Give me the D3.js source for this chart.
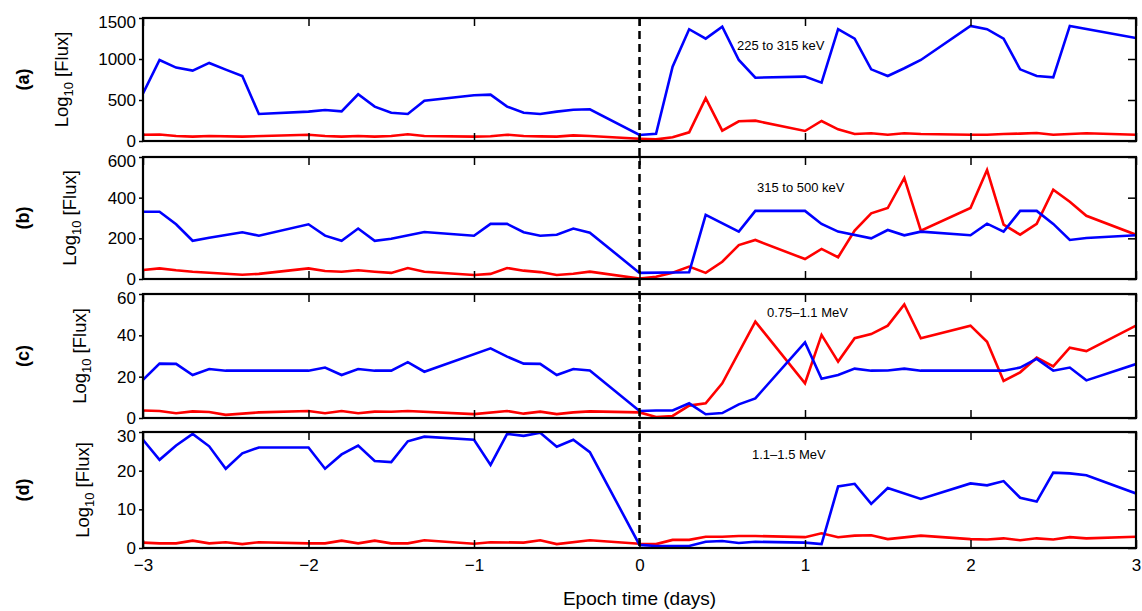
<!DOCTYPE html>
<html>
<head>
<meta charset="utf-8">
<script src="https://cdn.jsdelivr.net/npm/d3@7"></script>
<style>
  body { margin: 0; background: #fff; }
  svg { display: block; font-family: 'Liberation Sans', Arial, Helvetica, sans-serif; }
  .axis text { font-size: 17px; fill: #000; }
  .axis line { stroke: #000; stroke-width: 1.5; }
  .axis path { display: none; }
</style>
</head>
<body>
<div id="chart"></div>
<script>
// values: [epoch day, flux]
const blueA = [[-3,580],[-2.9,988],[-2.8,895],[-2.7,858],[-2.6,952],[-2.5,870],[-2.4,793],[-2.3,330],[-2.0,358],[-1.9,378],[-1.8,362],[-1.7,570],[-1.6,419],[-1.5,345],[-1.4,329],[-1.3,492],[-1.0,557],[-0.9,565],[-0.8,419],[-0.7,345],[-0.6,329],[-0.5,358],[-0.4,382],[-0.3,387],[0,73],[0.1,89],[0.2,907],[0.3,1363],[0.4,1248],[0.5,1395],[0.6,988],[0.7,772],[1.0,785],[1.1,712],[1.2,1363],[1.3,1248],[1.4,874],[1.5,793],[1.6,887],[1.7,988],[2.0,1403],[2.1,1363],[2.2,1248],[2.3,874],[2.4,793],[2.5,777],[2.6,1403],[3.0,1256]];
const redA = [[-3,77],[-2.9,80],[-2.8,61],[-2.7,53],[-2.6,61],[-2.4,53],[-2.0,77],[-1.9,61],[-1.8,53],[-1.7,61],[-1.6,53],[-1.5,61],[-1.4,82],[-1.3,61],[-1.0,53],[-0.9,57],[-0.8,77],[-0.7,61],[-0.6,57],[-0.5,53],[-0.4,69],[-0.3,61],[0,28],[0.1,20],[0.2,45],[0.3,106],[0.4,521],[0.5,126],[0.6,240],[0.7,248],[1.0,122],[1.1,244],[1.2,142],[1.3,85],[1.4,94],[1.5,77],[1.6,94],[1.7,85],[2.0,77],[2.1,77],[2.2,85],[2.3,90],[2.4,98],[2.5,77],[2.6,85],[2.7,94],[3.0,77]];

const blueB = [[-3,331],[-2.9,331],[-2.8,269],[-2.7,188],[-2.6,203],[-2.4,230],[-2.3,213],[-2.0,269],[-1.9,213],[-1.8,188],[-1.7,248],[-1.6,188],[-1.5,198],[-1.3,231],[-1.0,213],[-0.9,271],[-0.8,271],[-0.7,230],[-0.6,213],[-0.5,218],[-0.4,248],[-0.3,228],[0,30],[0.3,33],[0.4,315],[0.6,233],[0.7,335],[1.0,335],[1.1,271],[1.2,233],[1.4,200],[1.5,241],[1.6,215],[1.7,233],[2.0,215],[2.1,272],[2.2,233],[2.3,335],[2.4,335],[2.5,271],[2.6,192],[2.7,202],[3.0,215]];
const redB = [[-3,44],[-2.9,52],[-2.8,43],[-2.7,36],[-2.4,21],[-2.3,25],[-2.0,52],[-1.9,39],[-1.8,36],[-1.7,43],[-1.6,36],[-1.5,30],[-1.4,54],[-1.3,36],[-1.0,20],[-0.9,25],[-0.8,54],[-0.7,41],[-0.6,34],[-0.5,20],[-0.4,26],[-0.3,36],[0,2],[0.1,11],[0.2,31],[0.3,61],[0.4,30],[0.5,85],[0.6,167],[0.7,192],[1.0,98],[1.1,148],[1.2,107],[1.3,238],[1.4,323],[1.5,349],[1.6,497],[1.7,238],[2.0,349],[2.1,536],[2.2,267],[2.3,218],[2.4,271],[2.5,439],[2.6,380],[2.7,311],[3.0,218]];

const blueC = [[-3,18.5],[-2.9,26.3],[-2.8,26.2],[-2.7,20.8],[-2.6,23.7],[-2.5,22.9],[-2.0,22.9],[-1.9,24.4],[-1.8,20.8],[-1.7,23.7],[-1.6,22.9],[-1.5,22.9],[-1.4,27],[-1.3,22.4],[-0.9,33.7],[-0.8,29.7],[-0.7,26.3],[-0.6,26.2],[-0.5,20.8],[-0.4,23.7],[-0.3,23],[0,3.4],[0.1,3.6],[0.2,3.6],[0.3,7.1],[0.4,1.8],[0.5,2.4],[0.6,6.6],[0.7,9.5],[1.0,36.6],[1.1,19],[1.2,20.8],[1.3,23.9],[1.4,22.9],[1.5,23],[1.6,23.9],[1.7,22.9],[2.0,22.9],[2.2,22.9],[2.3,24.4],[2.4,28.6],[2.5,22.9],[2.6,24.4],[2.7,18.2],[3.0,26.1]];
const redC = [[-3,3.6],[-2.9,3.4],[-2.8,2.3],[-2.7,3.2],[-2.6,2.9],[-2.5,1.5],[-2.3,2.7],[-2.0,3.4],[-1.9,2.3],[-1.8,3.4],[-1.7,2.3],[-1.6,3.1],[-1.5,3.0],[-1.4,3.4],[-1.0,1.9],[-0.8,3.4],[-0.7,2.1],[-0.6,3.1],[-0.5,1.9],[-0.4,2.7],[-0.3,3.2],[0,2.7],[0.1,0.5],[0.2,1.0],[0.3,6.0],[0.4,7.1],[0.5,16.8],[0.7,46.6],[1.0,16.8],[1.1,40.2],[1.2,27.3],[1.3,38.6],[1.4,40.6],[1.5,44.7],[1.6,55],[1.7,38.6],[2.0,44.7],[2.1,36.9],[2.2,17.9],[2.3,22.1],[2.4,29.2],[2.5,25],[2.6,34],[2.7,32.4],[3.0,44.7]];

const blueD = [[-3,28],[-2.9,22.8],[-2.8,26.5],[-2.7,29.5],[-2.6,26.3],[-2.5,20.5],[-2.4,24.5],[-2.3,26],[-2.0,26],[-1.9,20.5],[-1.8,24.2],[-1.7,26.5],[-1.6,22.5],[-1.5,22.2],[-1.4,27.6],[-1.3,28.8],[-1.0,28],[-0.9,21.5],[-0.8,29.5],[-0.7,29],[-0.6,29.8],[-0.5,26.2],[-0.4,28],[-0.3,24.8],[0,0.8],[0.1,0.5],[0.3,0.5],[0.4,1.6],[0.5,1.8],[0.6,1.3],[0.7,1.6],[1.0,1.4],[1.1,1.0],[1.2,15.9],[1.3,16.6],[1.4,11.4],[1.5,15.5],[1.7,12.7],[2.0,16.7],[2.1,16.2],[2.2,17.3],[2.3,13],[2.4,12],[2.5,19.5],[2.6,19.3],[2.7,18.8],[3.0,14.1]];
const redD = [[-3,1.4],[-2.9,1.2],[-2.8,1.2],[-2.7,1.9],[-2.6,1.2],[-2.5,1.5],[-2.4,1.0],[-2.3,1.5],[-2.0,1.2],[-1.9,1.2],[-1.8,1.9],[-1.7,1.2],[-1.6,1.9],[-1.5,1.2],[-1.4,1.2],[-1.3,2.0],[-1.0,1.1],[-0.9,1.5],[-0.7,1.4],[-0.6,2.0],[-0.5,1.0],[-0.3,2.0],[0,1.1],[0.1,1.0],[0.2,2.1],[0.3,2.1],[0.4,2.9],[0.5,2.9],[0.6,3.1],[0.7,3.1],[1.0,2.8],[1.1,3.8],[1.2,2.8],[1.3,3.2],[1.4,3.3],[1.5,2.3],[1.7,3.2],[2.0,2.3],[2.1,2.2],[2.2,2.5],[2.3,2.0],[2.4,2.5],[2.5,2.2],[2.6,2.8],[2.7,2.5],[3.0,2.9]];

const panelLetters = ['(a)', '(b)', '(c)', '(d)'];
const energyLabels = ['225 to 315 keV', '315 to 500 keV', '0.75\u20131.1 MeV', '1.1\u20131.5 MeV'];
const yMax = [1500, 600, 60, 30];
const yTicks = [[0, 500, 1000, 1500], [0, 200, 400, 600], [0, 20, 40, 60], [0, 10, 20, 30]];
const xTicks = [-3, -2, -1, 0, 1, 2, 3];

const width = 1142;
const height = 611;
const left = 143;
const right = 1136;
// panel frames (top, bottom) and label placement
const panelBox = [[18, 141], [157, 279], [294, 418], [432, 548]];
const ylabelX = [68, 76, 86, 89];
const energyPos = [[737, 50], [757, 192], [767, 317], [752, 459]];

const svg = d3.select('#chart').append('svg').attr('width', width).attr('height', height);

const x = d3.scaleLinear().domain([-3, 3]).range([left, right]);

const series = [[blueA, redA], [blueB, redB], [blueC, redC], [blueD, redD]];

series.forEach(([blue, red], i) => {
  const [top, bottom] = panelBox[i];
  const y = d3.scaleLinear().domain([0, yMax[i]]).range([bottom, top]);
  const g = svg.append('g').attr('class', 'panel');

  const clipId = `clip-${i}`;
  g.append('clipPath').attr('id', clipId)
    .append('rect').attr('x', left).attr('y', top).attr('width', right - left).attr('height', bottom - top);

  const line = d3.line().x(d => x(d[0])).y(d => y(d[1]));

  const lines = g.append('g').attr('clip-path', `url(#${clipId})`);
  lines.append('path').datum(red).attr('d', line)
    .attr('fill', 'none').attr('stroke', '#ff0000').attr('stroke-width', 2.6).attr('stroke-linejoin', 'miter');
  lines.append('path').datum(blue).attr('d', line)
    .attr('fill', 'none').attr('stroke', '#0000ff').attr('stroke-width', 2.6).attr('stroke-linejoin', 'miter');

  // axes
  const yAxisG = g.append('g').attr('class', 'axis')
    .attr('transform', `translate(${left},0)`)
    .call(d3.axisLeft(y).tickValues(yTicks[i]).tickSize(4).tickPadding(3).tickFormat(d3.format('d')));
  // the top label sits a little lower, as in the figure
  yAxisG.selectAll('.tick')
    .filter(d => d === yMax[i])
    .select('text')
    .attr('y', 4);

  g.append('g').attr('class', 'axis')
    .attr('transform', `translate(${right},0)`)
    .call(d3.axisRight(y).tickValues(yTicks[i]).tickSize(-8).tickFormat(''));
  g.append('g').attr('class', 'axis')
    .attr('transform', `translate(0,${top})`)
    .call(d3.axisTop(x).tickValues(xTicks).tickSize(-8).tickFormat(''));
  const xAxis = d3.axisBottom(x).tickValues(xTicks).tickSize(-8).tickPadding(11);
  if (i < 3) xAxis.tickFormat('');
  else xAxis.tickFormat(d3.format('d'));
  g.append('g').attr('class', 'axis')
    .attr('transform', `translate(0,${bottom})`)
    .call(xAxis);

  g.append('rect')
    .attr('x', left).attr('y', top).attr('width', right - left).attr('height', bottom - top)
    .attr('fill', 'none').attr('stroke', '#000').attr('stroke-width', 2.2);

  const midY = (top + bottom) / 2;
  const ylab = g.append('text')
    .attr('transform', `translate(${ylabelX[i]},${midY}) rotate(-90)`)
    .attr('text-anchor', 'middle')
    .style('font-size', '18.5px');
  ylab.append('tspan').text('Log');
  ylab.append('tspan').attr('dy', 5).style('font-size', '13px').text('10');
  ylab.append('tspan').attr('dy', -5).text(' [Flux]');

  g.append('text')
    .attr('transform', `translate(29,${midY}) rotate(-90)`)
    .attr('text-anchor', 'middle')
    .style('font-size', '18px').style('font-weight', 'bold')
    .text(panelLetters[i]);

  g.append('text')
    .attr('x', energyPos[i][0]).attr('y', energyPos[i][1])
    .style('font-size', '13px')
    .text(energyLabels[i]);
});

// epoch marker
svg.append('line')
  .attr('x1', x(0)).attr('x2', x(0))
  .attr('y1', panelBox[0][0]).attr('y2', panelBox[3][1])
  .attr('stroke', '#000').attr('stroke-width', 2.5).attr('stroke-dasharray', '8,5');

svg.append('text')
  .attr('x', (left + right) / 2).attr('y', 605)
  .attr('text-anchor', 'middle')
  .style('font-size', '19px')
  .text('Epoch time (days)');
</script>
</body>
</html>
